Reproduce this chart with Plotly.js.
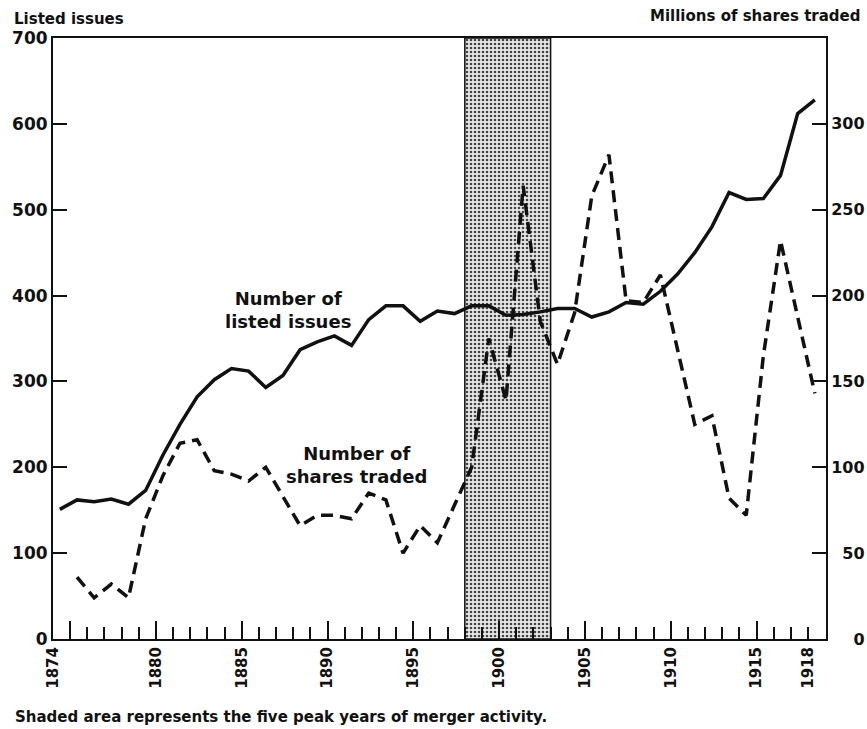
<!DOCTYPE html>
<html>
<head>
<meta charset="utf-8">
<script src="https://cdn.plot.ly/plotly-3.0.1.min.js"></script>
<style>html,body{margin:0;padding:0;background:#fff;}#chart{width:867px;height:729px;}</style>
</head>
<body>
<div id="chart"></div>
<script>
// ---- data ----
const years = [1874,1875,1876,1877,1878,1879,1880,1881,1882,1883,1884,1885,1886,1887,1888,1889,1890,1891,1892,1893,1894,1895,1896,1897,1898,1899,1900,1901,1902,1903,1904,1905,1906,1907,1908,1909,1910,1911,1912,1913,1914,1915,1916,1917,1918];
const listedIssues = [151,162,160,163,157,173,214,250,282,302,315,312,293,307,337,346,353,342,372,388,388,370,382,379,388,388,377,378,381,385,385,375,381,392,390,405,425,450,480,520,512,513,540,612,628];
const shareYears = [1875,1876,1877,1878,1879,1880,1881,1882,1883,1884,1885,1886,1887,1888,1889,1890,1891,1892,1893,1894,1895,1896,1897,1898,1899,1900,1901,1902,1903,1904,1905,1906,1907,1908,1909,1910,1911,1912,1913,1914,1915,1916,1917,1918];
const sharesTraded = [36,24,32,24,70,95,114,116,98,96,92,100,83,66,72,72,70,85,81,50,66,56,78,100,175,139,264,185,160,190,258,282,197,196,212,168,125,130,82,72,165,232,188,143];
const shadeStart = 1898, shadeEnd = 1903;
const xTickVals = [1874,1880,1885,1890,1895,1900,1905,1910,1915,1918];
const leftTickVals = [0,100,200,300,400,500,600,700];
const rightTickVals = [0,50,100,150,200,250,300];

// ---- chart ----
const FONT = 'DejaVu Sans';
const midYear = 0.4;
const blk = '#111';

const shade = {
  type: 'bar', x: [(shadeStart + shadeEnd) / 2], y: [700], width: [shadeEnd - shadeStart],
  xaxis: 'x', yaxis: 'y',
  marker: {color: '#e6e6e6', line: {color: blk, width: 1.5},
    pattern: {shape: '.', fgcolor: '#444', bgcolor: '#e9e9e9', size: 4, solidity: 0.35}},
  hoverinfo: 'skip', showlegend: false
};
const issues = {
  type: 'scatter', mode: 'lines', x: years.map(v => v + midYear), y: listedIssues,
  xaxis: 'x', yaxis: 'y', line: {color: blk, width: 3.5}, showlegend: false
};
const shares = {
  type: 'scatter', mode: 'lines', x: shareYears.map(v => v + midYear), y: sharesTraded,
  xaxis: 'x', yaxis: 'y2', line: {color: blk, width: 3.5, dash: '12px,7px'}, showlegend: false
};
const ticksTrace = {type: 'scatter', mode: 'none', x: [1874, 1919], y: [0, 0], xaxis: 'x2', yaxis: 'y', hoverinfo: 'skip', showlegend: false};

const xr = [1874, 1919.05];
const tf = {family: FONT, size: 15, color: blk, weight: 'bold'};
const layout = {
  width: 867, height: 729,
  margin: {l: 53, r: 41, t: 38, b: 90},
  paper_bgcolor: '#fff', plot_bgcolor: '#fff',
  bargap: 0,
  xaxis: {range: xr, showline: true, linewidth: 2, linecolor: blk, mirror: true,
    tickmode: 'array', tickvals: xTickVals, ticktext: xTickVals.map(String), ticks: '',
    tickangle: -90, tickfont: tf, showgrid: false, zeroline: false},
  xaxis2: {range: xr, overlaying: 'x', side: 'bottom', showline: false, showgrid: false, zeroline: false,
    showticklabels: false, ticks: 'inside', tick0: 1875, dtick: 5, ticklen: 18, tickwidth: 2, tickcolor: blk,
    minor: {ticks: 'inside', tick0: 1874, dtick: 1, ticklen: 12, tickwidth: 2, tickcolor: blk, showgrid: false}},
  yaxis: {range: [0, 700], showline: true, linewidth: 2, linecolor: blk, mirror: false,
    tickmode: 'array', tickvals: leftTickVals, ticktext: leftTickVals.map(String),
    ticks: 'inside', ticklen: 14, tickwidth: 2, tickcolor: blk, tickfont: {family: FONT, size: 17, color: blk, weight: 'bold'},
    showgrid: false, zeroline: false},
  yaxis2: {range: [0, 350], overlaying: 'y', side: 'right', showline: true, linewidth: 2, linecolor: blk,
    tickmode: 'array', tickvals: rightTickVals, ticktext: rightTickVals.map(v => String(v).padStart(3, '\u2007')),
    ticks: 'inside', ticklen: 14, tickwidth: 2, tickcolor: blk, tickfont: {family: FONT, size: 16, color: blk, weight: 'bold'},
    showgrid: false, zeroline: false},
  annotations: [
    {xref: 'paper', yref: 'paper', x: -0.053, y: 1.031, xanchor: 'left', yanchor: 'middle', showarrow: false,
      text: 'Listed issues', font: {family: FONT, size: 15, color: blk, weight: 'bold'}},
    {xref: 'paper', yref: 'paper', x: 1.047, y: 1.036, xanchor: 'right', yanchor: 'middle', showarrow: false,
      text: 'Millions of shares traded', font: {family: FONT, size: 15, color: blk, weight: 'bold'}},
    {xref: 'x', yref: 'y', x: 1887.7, y: 383, showarrow: false, align: 'center',
      text: 'Number of<br>listed issues', font: {family: FONT, size: 18, color: blk, weight: 'bold'}},
    {xref: 'x', yref: 'y', x: 1891.7, y: 203, showarrow: false, align: 'center',
      text: 'Number of<br>shares traded', font: {family: FONT, size: 18, color: blk, weight: 'bold'}},
    {xref: 'paper', yref: 'paper', x: -0.052, y: -0.13, xanchor: 'left', yanchor: 'middle', showarrow: false,
      text: 'Shaded area represents the five peak years of merger activity.', font: {family: FONT, size: 15, color: blk, weight: 'bold'}}
  ]
};
Plotly.newPlot('chart', [shade, ticksTrace, issues, shares], layout, {displayModeBar: false, staticPlot: true});
</script>
</body>
</html>
